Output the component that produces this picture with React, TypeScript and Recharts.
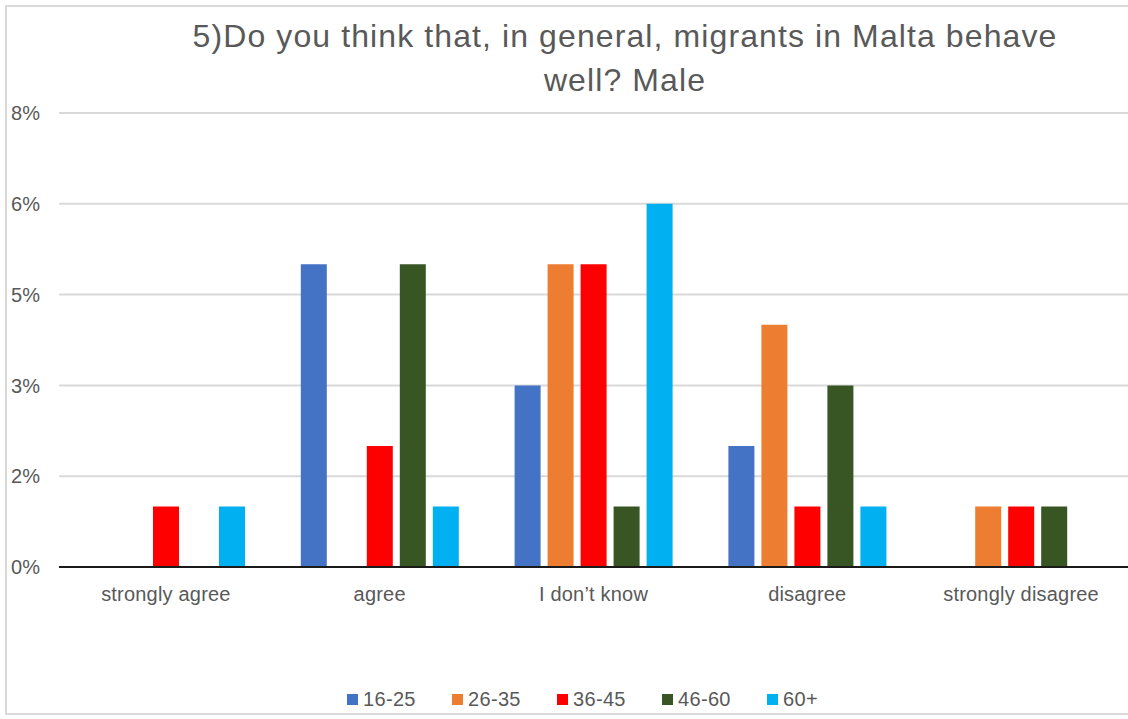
import React from 'react';
import { BarChart, Bar, XAxis, YAxis, CartesianGrid, Legend } from 'recharts';

const categories = ['strongly agree', 'agree', 'I don\u2019t know', 'disagree', 'strongly disagree'];
const s16_25 = [0, 5, 3, 2, 0];
const s26_35 = [0, 0, 5, 4, 1];
const s36_45 = [1, 2, 5, 1, 1];
const s46_60 = [0, 5, 1, 3, 1];
const s60p = [1, 1, 6, 1, 0];
const yTicks = [0, 1.5, 3, 4.5, 6, 7.5];

const seriesNames = ['16-25', '26-35', '36-45', '46-60', '60+'];
const seriesColors = ['#4472C4', '#ED7D31', '#FF0000', '#375623', '#00B0F0'];
const seriesValues = [s16_25, s26_35, s36_45, s46_60, s60p];

const data = categories.map((c, i) => {
  const row: any = { name: c };
  seriesNames.forEach((n, j) => {
    row[n] = seriesValues[j][i];
  });
  return row;
});

const FONT = '"Liberation Sans", Arial, sans-serif';
const TXT = '#595959';

const renderLegend = (props: any) => {
  const payload = props.payload || [];
  return (
    <div
      style={{
        display: 'flex',
        justifyContent: 'center',
        alignItems: 'center',
        height: 30,
        paddingLeft: 37,
        fontFamily: FONT,
        fontSize: 20,
        letterSpacing: 0.3,
        color: TXT,
      }}
    >
      {payload.map((p: any, i: number) => (
        <div
          key={i}
          style={{
            display: 'flex',
            alignItems: 'center',
            width: i < payload.length - 1 ? 105 : undefined,
          }}
        >
          <span style={{ display: 'inline-block', width: 11, height: 11, background: p.color, marginRight: 5 }} />
          <span>{p.value}</span>
        </div>
      ))}
    </div>
  );
};

export default function App() {
  return (
    <div style={{ position: 'absolute', left: 0, top: 0, width: 1128, height: 719, background: '#fff', overflow: 'hidden' }}>
      <div
        style={{
          position: 'absolute',
          left: 5,
          top: 5,
          width: 1123,
          height: 710,
          borderLeft: '2px solid #D9D9D9',
          borderTop: '2px solid #D9D9D9',
          borderBottom: '2px solid #D9D9D9',
          boxSizing: 'border-box',
        }}
      />
      <BarChart
        width={1128}
        height={719}
        data={data}
        margin={{ top: 113, right: 0, left: 0, bottom: 5 }}
        barSize={26}
        barGap={7}
      >
        <CartesianGrid vertical={false} stroke="#D9D9D9" strokeWidth={2} />
        <XAxis
          dataKey="name"
          height={117}
          tickLine={false}
          tickSize={0}
          tickMargin={20}
          axisLine={{ stroke: '#1a1a1a', strokeWidth: 2 }}
          tick={{ fill: TXT, fontSize: 20, fontFamily: FONT, letterSpacing: 0.2 }}
          interval={0}
        />
        <YAxis
          width={59}
          domain={[0, 7.5]}
          ticks={yTicks}
          tickFormatter={(v: number) => Math.round(v) + '%'}
          axisLine={false}
          tickLine={false}
          tickSize={0}
          tickMargin={19}
          tick={{ fill: TXT, fontSize: 20, fontFamily: FONT }}
        />
        <Legend verticalAlign="bottom" align="center" height={30} content={renderLegend} />
        {seriesNames.map((n, j) => (
          <Bar key={n} dataKey={n} name={n} fill={seriesColors[j]} isAnimationActive={false} />
        ))}
      </BarChart>
      <div
        style={{
          position: 'absolute',
          left: 125,
          top: 14,
          width: 1000,
          textAlign: 'center',
          fontFamily: FONT,
          fontSize: 32,
          letterSpacing: 1.1,
          lineHeight: '44px',
          color: TXT,
        }}
      >
        <div>5)Do you think that, in general, migrants in Malta behave</div>
        <div>well? Male</div>
      </div>
    </div>
  );
}
